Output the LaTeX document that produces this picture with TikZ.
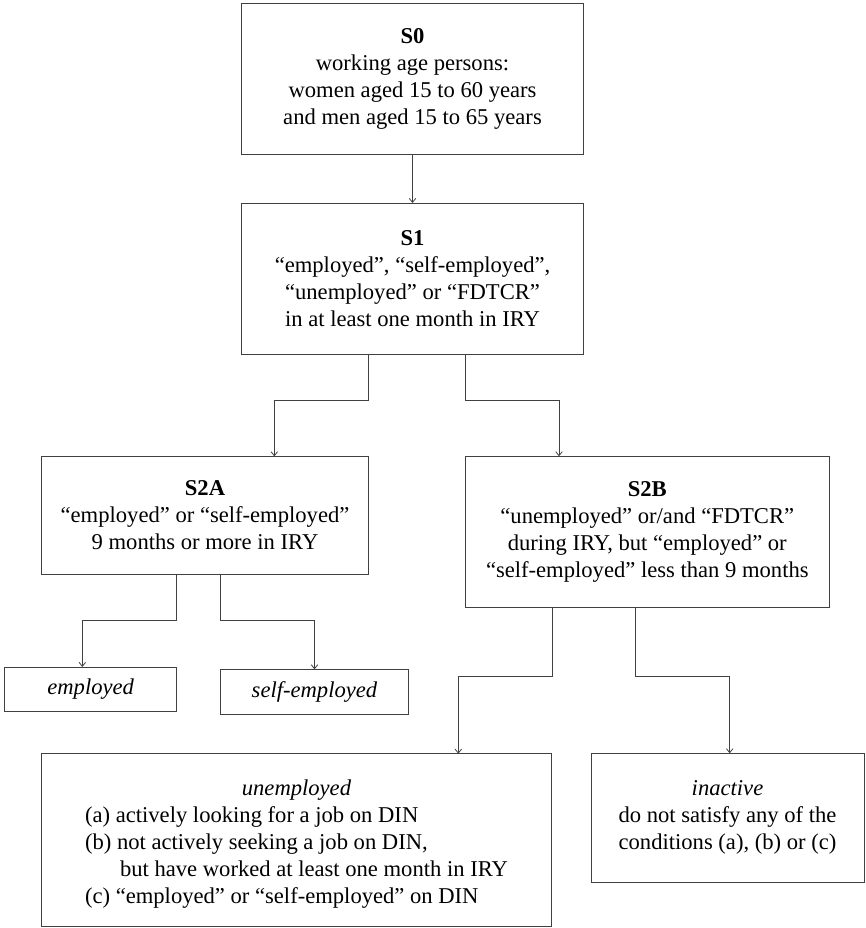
\documentclass[tikz,border=0pt]{standalone}
\usepackage{fontspec}
\setmainfont{Liberation Serif}
\usetikzlibrary{arrows.meta}
\begin{document}
\begin{tikzpicture}[x=1pt,y=1pt,
  box/.style={draw=black!75, line width=0.8pt, inner sep=0pt, outer sep=0pt,
    align=center, font=\fontsize{22.6}{27}\selectfont},
  conn/.style={draw=black!75, line width=0.8pt,
    -{Straight Barb[length=4pt,width=6.5pt]}}]
\useasboundingbox (0,0) rectangle (865,-928);

\node[box, minimum width=342.4pt, minimum height=151pt] (S0) at (412.5,-79.2)
  {\textbf{S0}\\ working age persons:\\ women aged 15 to 60 years\\ and men aged 15 to 65 years};
\node[box, minimum width=341.3pt, minimum height=151pt] (S1) at (412.5,-278.5)
  {\textbf{S1}\\ “employed”, “self-employed”,\\ “unemployed” or “FDTCR”\\ in at least one month in IRY};
\node[box, minimum width=327.4pt, minimum height=117.7pt] (S2A) at (205,-515.2)
  {\textbf{S2A}\\ “employed” or “self-employed”\\ 9 months or more in IRY};
\node[box, minimum width=364.7pt, minimum height=151pt] (S2B) at (647.3,-531.8)
  {\textbf{S2B}\\ “unemployed” or/and “FDTCR”\\ during IRY, but “employed” or\\ “self-employed” less than 9 months};
\node[box, minimum width=172pt, minimum height=44.7pt] (emp) at (90.7,-689.3)
  {\textit{employed}};
\node[box, minimum width=187.6pt, minimum height=44.7pt] (self) at (314.5,-691.7)
  {\textit{self-employed}};
\node[box, minimum width=510.3pt, minimum height=173pt] (unemp) at (296.5,-840.2)
  {\rule{0pt}{26.4pt}\textit{unemployed}\\
   \begin{tabular}[t]{@{}l@{}}(a) actively looking for a job on DIN\\
   (b) not actively seeking a job on DIN,\\
   \hspace*{35pt}but have worked at least one month in IRY\\
   (c) “employed” or “self-employed” on DIN\end{tabular}};
\node[box, minimum width=273pt, minimum height=129pt] (inact) at (727.5,-817.8)
  {\textit{inactive}\\ do not satisfy any of the\\ conditions (a), (b) or (c)};

\draw[conn] (S0.south) -- (S1.north);
\draw[conn] (S1.south -| S2A.north east) -- ++(0,-46.3) -| ([xshift=69.3pt]S2A.north);
\draw[conn] (S1.south -| S2B.north west) -- ++(0,-46.3) -| ([xshift=-88.3pt]S2B.north);
\draw[conn] (S2A.south -| emp.north east) -- ++(0,-46.7) -| ([xshift=-8.4pt]emp.north);
\draw[conn] (S2A.south -| self.north west) -- ++(0,-46.7) -| (self.north);
\draw[conn] ([xshift=-95pt]S2B.south) -- ++(0,-68.7) -| ([xshift=161.8pt]unemp.north);
\draw[conn] ([xshift=-11.6pt]S2B.south) -- ++(0,-68.7) -| ([xshift=2.2pt]inact.north);
\end{tikzpicture}
\end{document}
